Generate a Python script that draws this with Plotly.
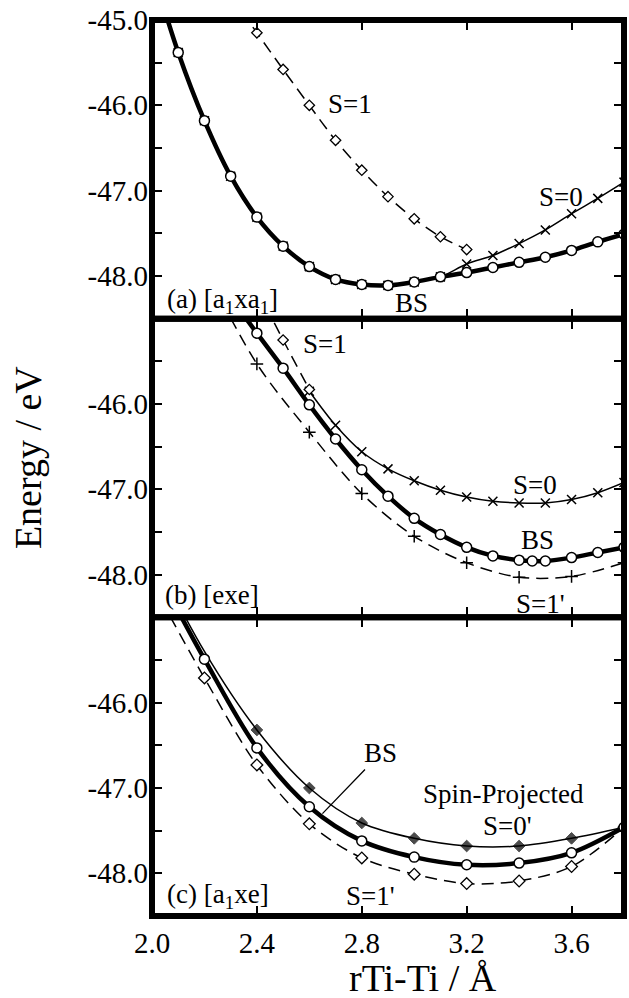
import plotly.graph_objects as go
from plotly.subplots import make_subplots

# ---------------- data ----------------
# Panel (a) [a1xa1]
XA = [2.0, 2.1, 2.2, 2.3, 2.4, 2.5, 2.6, 2.7, 2.8, 2.9, 3.0, 3.1, 3.2, 3.3, 3.4, 3.5, 3.6, 3.7, 3.8]
BS_A = [-44.40, -45.38, -46.18, -46.83, -47.31, -47.65, -47.89, -48.04, -48.10, -48.11,
        -48.07, -48.01, -47.96, -47.90, -47.84, -47.78, -47.70, -47.60, -47.51]
S0_A = [-44.40, -45.38, -46.18, -46.83, -47.31, -47.65, -47.89, -48.04, -48.10, -48.11,
        -48.07, -48.01, -47.86, -47.76, -47.62, -47.46, -47.27, -47.09, -46.90]
XA_S1 = [2.3, 2.4, 2.5, 2.6, 2.7, 2.8, 2.9, 3.0, 3.1, 3.2]
S1_A = [-44.72, -45.15, -45.58, -46.00, -46.41, -46.76, -47.07, -47.33, -47.54, -47.69]

# Panel (b) [exe]
XB_BS = [2.3, 2.4, 2.5, 2.6, 2.7, 2.8, 2.9, 3.0, 3.1, 3.2, 3.3, 3.4, 3.45, 3.5, 3.6, 3.7, 3.8]
BS_B = [-44.75, -45.17, -45.58, -46.01, -46.41, -46.77, -47.08, -47.34, -47.53, -47.68,
        -47.78, -47.83, -47.84, -47.84, -47.80, -47.74, -47.68]
XB_S0 = [2.6, 2.7, 2.8, 2.9, 3.0, 3.1, 3.2, 3.3, 3.4, 3.5, 3.6, 3.7, 3.8]
S0_B = [-45.85, -46.25, -46.56, -46.76, -46.90, -47.01, -47.09, -47.14, -47.16, -47.16,
        -47.12, -47.04, -46.92]
XB_S1 = [2.4, 2.5, 2.6]
S1_B = [-44.65, -45.25, -45.83]
XB_S1P = [2.2, 2.4, 2.6, 2.8, 3.0, 3.2, 3.4, 3.6, 3.8]
S1P_B = [-44.40, -45.53, -46.33, -47.05, -47.55, -47.86, -48.03, -48.02, -47.86]

# Panel (c) [a1xe]
XC = [2.0, 2.2, 2.4, 2.6, 2.8, 3.0, 3.2, 3.4, 3.6, 3.8]
BS_C = [-44.35, -45.49, -46.53, -47.22, -47.62, -47.81, -47.90, -47.88, -47.76, -47.46]
S0P_C = [-44.25, -45.40, -46.32, -47.00, -47.41, -47.59, -47.68, -47.68, -47.59, -47.46]
S1P_C = [-44.60, -45.71, -46.73, -47.42, -47.82, -48.01, -48.12, -48.09, -47.92, -47.46]

X_TICKS = [2.0, 2.4, 2.8, 3.2, 3.6]
X_TICK_TEXT = ["2.0", "2.4", "2.8", "3.2", "3.6"]
Y_TICKS = [-48.5, -48.0, -47.5, -47.0, -46.5, -46.0, -45.5, -45.0]
Y_MAJOR = {-48.0: "-48.0", -47.0: "-47.0", -46.0: "-46.0", -45.0: "-45.0"}

FONT = "Liberation Serif"

fig = make_subplots(rows=3, cols=1, shared_xaxes=True, vertical_spacing=0)

STYLES = {
    "bs": dict(line=dict(color="black", width=4.5),
               marker=dict(symbol="circle", size=10, color="white",
                           line=dict(color="black", width=1.5))),
    "s0": dict(line=dict(color="black", width=1.5),
               marker=dict(symbol="x-thin", size=9, color="black",
                           line=dict(color="black", width=1.5))),
    "s1": dict(line=dict(color="black", width=1.5, dash="12px,7px"),
               marker=dict(symbol="diamond", size=8, color="white",
                           line=dict(color="black", width=1.3))),
    "s1p": dict(line=dict(color="black", width=1.5, dash="12px,7px"),
                marker=dict(symbol="cross-thin", size=9, color="black",
                            line=dict(color="black", width=1.5))),
    "s0p": dict(line=dict(color="black", width=1.5),
                marker=dict(symbol="diamond", size=9, color="black",
                            line=dict(color="black", width=1))),
    "s1c": dict(line=dict(color="black", width=1.5, dash="12px,7px"),
                marker=dict(symbol="diamond", size=9, color="white",
                            line=dict(color="black", width=1.3))),
}


def add(row, x, y, kind, sizes=None):
    st = STYLES[kind]
    mk = dict(st["marker"])
    if sizes is not None:
        mk["size"] = sizes
    fig.add_trace(go.Scatter(x=x, y=y, mode="lines+markers",
                             line=dict(st["line"], shape="spline", smoothing=0.9),
                             marker=mk, showlegend=False, hoverinfo="skip"),
                  row=row, col=1)


# panel a
add(1, XA_S1, S1_A, "s1")
add(1, XA, S0_A, "s0")
add(1, XA, BS_A, "bs")
# panel b
add(2, XB_S1P, S1P_B, "s1p")
add(2, XB_S0, S0_B, "s0")
add(2, XB_S1, S1_B, "s1")
add(2, XB_BS, BS_B, "bs")
# panel c
add(3, XC, S1P_C, "s1c")
add(3, XC, S0P_C, "s0p", sizes=[9 if 2.3 < v < 3.7 else 0 for v in XC])
add(3, XC, BS_C, "bs")

tickfont = dict(family=FONT, size=29, color="black")
for r in (1, 2, 3):
    ytext = [Y_MAJOR.get(v, "") for v in Y_TICKS]
    if r != 1:
        ytext = ["" if v == -45.0 else t for v, t in zip(Y_TICKS, ytext)]
    fig.update_yaxes(row=r, col=1, range=[-48.5, -45.0], tickmode="array",
                     tickvals=Y_TICKS, ticktext=ytext, ticks="inside", ticklen=10,
                     tickwidth=1.5, tickcolor="black", mirror="ticks", showline=False,
                     showgrid=False, zeroline=False, tickfont=tickfont,
                     ticklabelstandoff=3)
    fig.update_xaxes(row=r, col=1, range=[2.0, 3.8], tickmode="array",
                     tickvals=X_TICKS, ticktext=X_TICK_TEXT, ticks="inside", ticklen=10,
                     tickwidth=1.5, tickcolor="black", mirror="ticks", showline=False,
                     showgrid=False, zeroline=False, tickfont=tickfont,
                     ticklabelstandoff=7)

# panel frames
for y0, y1 in ((2 / 3, 1.0), (1 / 3, 2 / 3), (0.0, 1 / 3)):
    fig.add_shape(type="rect", xref="paper", yref="paper", x0=0, x1=1, y0=y0, y1=y1,
                  line=dict(color="black", width=6), fillcolor="rgba(0,0,0,0)")

lab = dict(family=FONT, size=27, color="black")


def note(row, x, y, text, xanchor="center", **kw):
    sfx = "" if row == 1 else str(row)
    fig.add_annotation(xref="x" + sfx, yref="y" + sfx, x=x, y=y, text=text,
                       showarrow=False, xanchor=xanchor, yanchor="middle", font=lab, **kw)


note(1, 2.755, -45.99, "S=1")
note(1, 3.56, -47.07, "S=0")
note(1, 2.99, -48.32, "BS")
note(1, 2.05, -48.29, "(a) [a<sub>1</sub>xa<sub>1</sub>]", xanchor="left")

note(2, 2.66, -45.30, "S=1")
note(2, 3.46, -46.95, "S=0")
note(2, 3.47, -47.59, "BS")
note(2, 3.48, -48.34, "S=1'")
note(2, 2.042, -48.24, "(b) [exe]", xanchor="left")

note(3, 3.34, -47.07, "Spin-Projected")
note(3, 3.354, -47.45, "S=0'")
note(3, 2.835, -48.26, "S=1'")
note(3, 2.05, -48.26, "(c) [a<sub>1</sub>xe]", xanchor="left")
fig.add_annotation(xref="x3", yref="y3", axref="x3", ayref="y3", x=2.65, y=-47.30,
                   ax=2.873, ay=-46.59, text="BS", showarrow=True, arrowhead=0,
                   arrowwidth=1.3, arrowcolor="black", font=lab, standoff=0)

# axis titles
fig.add_annotation(xref="paper", yref="paper", x=-0.263, y=0.512, text="Energy / eV",
                   textangle=-90, showarrow=False, xanchor="center", yanchor="middle",
                   font=dict(family=FONT, size=38, color="black"))
fig.add_annotation(xref="paper", yref="paper", x=0.574, y=-0.069, text="rTi-Ti / Å",
                   showarrow=False, xanchor="center", yanchor="middle",
                   font=dict(family=FONT, size=38, color="black"))

fig.update_layout(width=629, height=998, margin=dict(l=152, r=5, t=20, b=82),
                  paper_bgcolor="white", plot_bgcolor="white",
                  font=dict(family=FONT, color="black"), showlegend=False)

fig.write_html("out.html")
